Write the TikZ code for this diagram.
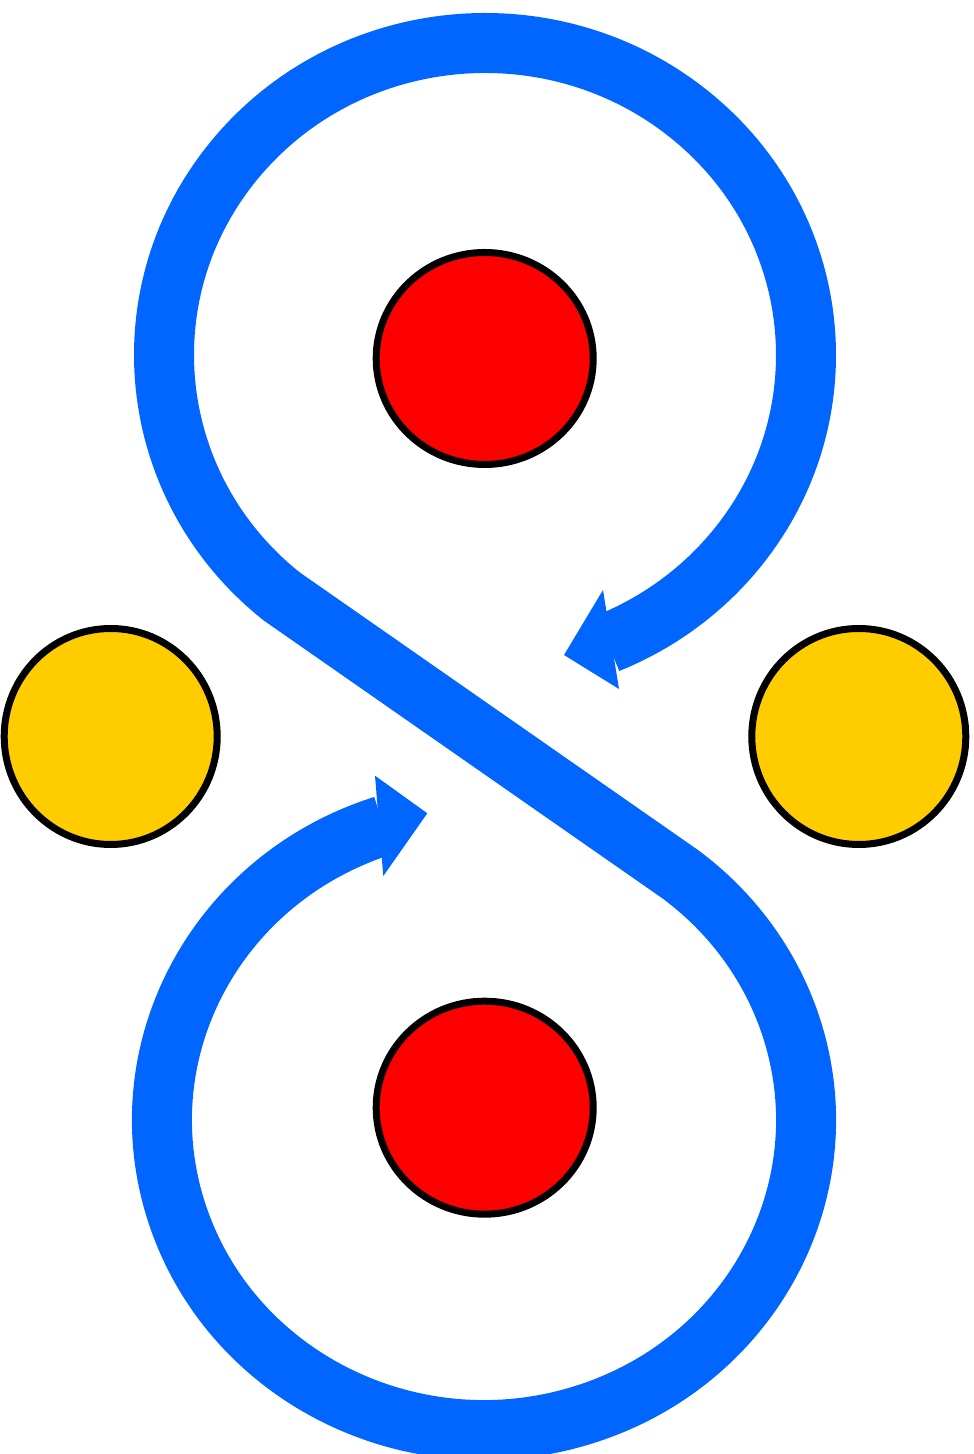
\documentclass[tikz,border=0pt]{standalone}
\usetikzlibrary{shapes.geometric}
\definecolor{bandblue}{HTML}{0066FF}
\definecolor{dotred}{HTML}{FF0000}
\definecolor{dotyellow}{HTML}{FFCC00}
\tikzset{
  band/.style={draw=bandblue, line width=60pt, line cap=butt, line join=miter},
  arrowhead/.style={fill=bandblue},
  dot/.style={ellipse, draw=black, line width=7pt, inner sep=0pt},
}
\begin{document}
\begin{tikzpicture}[x=1pt,y=1pt]
\useasboundingbox (0,0) rectangle (974,1454);
\clip (0,0) rectangle (974,1454);
% loop centres
\coordinate (T) at (485,1099);
\coordinate (B) at (484,334);
\path (B) ++(108.2:322pt and 310pt) coordinate (bstart);
\path (T) ++(230.7:321pt and 312pt) coordinate (J1);
% band
\draw[band] (bstart)
  arc[start angle=108.2, end angle=412.6, x radius=322pt, y radius=310pt] coordinate (J2)
  -- (J1)
  arc[start angle=230.7, end angle=-67.5, x radius=321pt, y radius=312pt] coordinate (tend);
% arrowheads
\coordinate (ttip) at (564,799);
\coordinate (tb1) at (603,864);
\coordinate (tb2) at (619,765);
\coordinate (btip) at (427.3,640.7);
\coordinate (bb1) at (375,678.3);
\coordinate (bb2) at (383.3,578);
\fill[arrowhead] (ttip) -- (tb1) -- (tb2) -- cycle;
\fill[arrowhead] (btip) -- (bb1) -- (bb2) -- cycle;
% dots
\node[dot, fill=dotred, minimum width=217pt, minimum height=212pt] (redtop) at (484.7,1095.5) {};
\node[dot, fill=dotred, minimum width=217pt, minimum height=213pt] (redbot) at (484.7,346.3) {};
\node[dot, fill=dotyellow, minimum width=213pt, minimum height=216pt] (yelleft) at (110.7,717.5) {};
\node[dot, fill=dotyellow, minimum width=214pt, minimum height=216pt] (yelright) at (858.8,717.5) {};
\end{tikzpicture}
\end{document}
